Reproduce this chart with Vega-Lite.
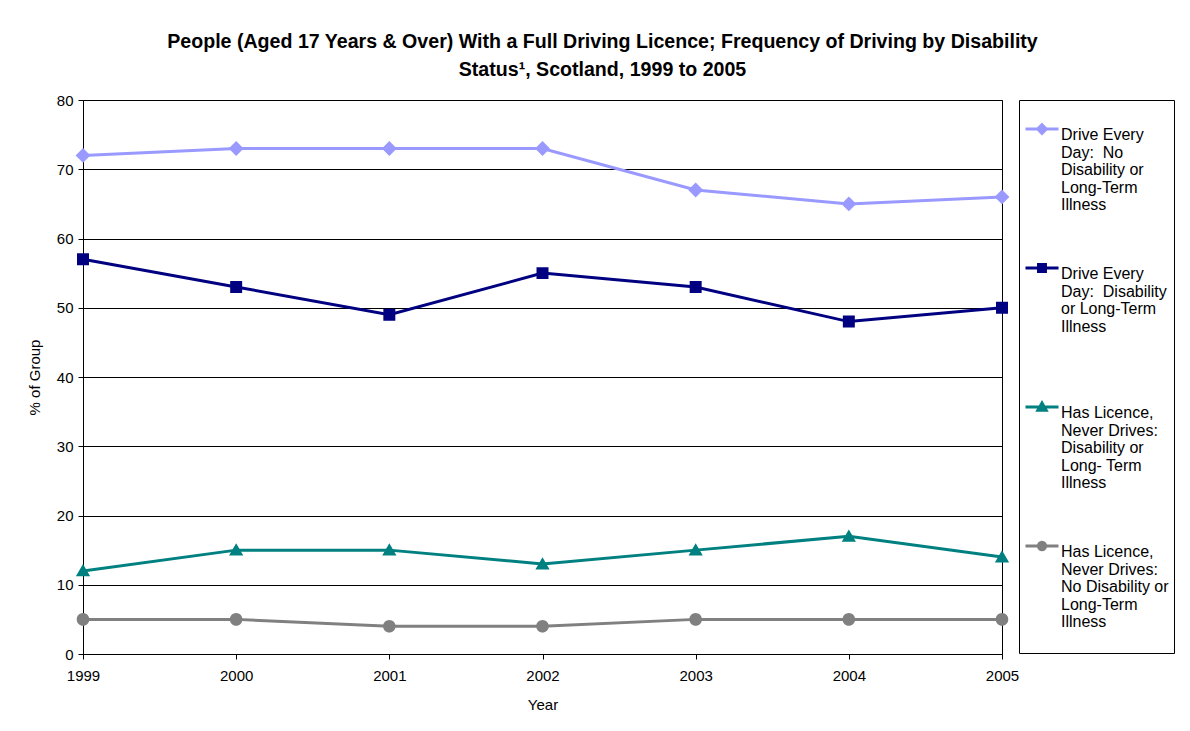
{
  "$schema": "https://vega.github.io/schema/vega-lite/v6.json",
  "width": 919,
  "height": 554,
  "autosize": {"type": "none"},
  "padding": {"left": 83, "top": 100, "right": 188, "bottom": 77},
  "background": "white",
  "title": {
    "text": ["People (Aged 17 Years & Over) With a Full Driving Licence; Frequency of Driving by Disability", "Status¹, Scotland, 1999 to 2005"],
    "font": "Liberation Sans",
    "fontSize": 19.6,
    "fontWeight": "bold",
    "color": "black",
    "lineHeight": 28,
    "anchor": "middle",
    "dx": 60,
    "offset": 12
  },
  "config": {
    "view": {"stroke": "black", "strokeWidth": 1},
    "font": "Liberation Sans",
    "axis": {
      "labelFont": "Liberation Sans",
      "titleFont": "Liberation Sans",
      "labelFontSize": 15,
      "titleFontSize": 15,
      "titleFontWeight": "normal",
      "labelColor": "black",
      "titleColor": "black",
      "domainColor": "black",
      "tickColor": "black",
      "gridColor": "black",
      "gridOpacity": 1,
      "gridWidth": 1,
      "tickSize": 5,
      "domainWidth": 1
    }
  },
  "data": {
    "values": [
      {"year": 1999, "series": "A", "value": 72},
      {"year": 2000, "series": "A", "value": 73},
      {"year": 2001, "series": "A", "value": 73},
      {"year": 2002, "series": "A", "value": 73},
      {"year": 2003, "series": "A", "value": 67},
      {"year": 2004, "series": "A", "value": 65},
      {"year": 2005, "series": "A", "value": 66},
      {"year": 1999, "series": "B", "value": 57},
      {"year": 2000, "series": "B", "value": 53},
      {"year": 2001, "series": "B", "value": 49},
      {"year": 2002, "series": "B", "value": 55},
      {"year": 2003, "series": "B", "value": 53},
      {"year": 2004, "series": "B", "value": 48},
      {"year": 2005, "series": "B", "value": 50},
      {"year": 1999, "series": "C", "value": 12},
      {"year": 2000, "series": "C", "value": 15},
      {"year": 2001, "series": "C", "value": 15},
      {"year": 2002, "series": "C", "value": 13},
      {"year": 2003, "series": "C", "value": 15},
      {"year": 2004, "series": "C", "value": 17},
      {"year": 2005, "series": "C", "value": 14},
      {"year": 1999, "series": "D", "value": 5},
      {"year": 2000, "series": "D", "value": 5},
      {"year": 2001, "series": "D", "value": 4},
      {"year": 2002, "series": "D", "value": 4},
      {"year": 2003, "series": "D", "value": 5},
      {"year": 2004, "series": "D", "value": 5},
      {"year": 2005, "series": "D", "value": 5}
    ]
  },
  "encoding": {
    "x": {
      "field": "year",
      "type": "quantitative",
      "scale": {"domain": [1999, 2005], "nice": false, "zero": false},
      "axis": {"values": [1999, 2000, 2001, 2002, 2003, 2004, 2005], "format": "d", "grid": false, "title": "Year", "labelPadding": 9, "titlePadding": 14, "labelFlush": false}
    },
    "y": {
      "field": "value",
      "type": "quantitative",
      "scale": {"domain": [0, 80], "nice": false},
      "axis": {"values": [0, 10, 20, 30, 40, 50, 60, 70, 80], "grid": true, "title": "% of Group", "labelPadding": 5, "titlePadding": 14}
    },
    "color": {
      "field": "series",
      "type": "nominal",
      "scale": {"domain": ["A", "B", "C", "D"], "range": ["#9999FF", "#000080", "#008080", "#808080"]},
      "legend": {
        "title": " ",
        "titleFontSize": 6,
        "titlePadding": 0,
        "orient": "none",
        "legendX": 936,
        "legendY": 0,
        "padding": 5,
        "strokeColor": "black",
        "fillColor": "white",
        "symbolSize": 1089,
        "symbolStrokeWidth": 3,
        "labelFont": "Liberation Sans",
        "labelFontSize": 16,
        "labelColor": "black",
        "labelLimit": 300,
        "labelOffset": 1,
        "labelBaseline": "top",
        "gridAlign": "all",
        "rowPadding": 19,
        "labelExpr": "datum.label == 'A' ? ['Drive Every', 'Day:\u00a0 No', 'Disability or', 'Long-Term', 'Illness', ''] : datum.label == 'B' ? ['Drive Every', 'Day:\u00a0 Disability', 'or Long-Term', 'Illness', '', ''] : datum.label == 'C' ? ['Has Licence,', 'Never Drives:', 'Disability or', 'Long- Term', 'Illness', ''] : ['Has Licence,', 'Never Drives:', 'No Disability or', 'Long-Term', 'Illness', '']",
        "encode": {
          "symbols": {"update": {"stroke": {"scale": "color", "field": "value"}, "strokeWidth": {"value": 3}}},
          "labels": {"update": {"dy": {"value": -2}, "lineHeight": {"value": 17.5}}}
        }
      }
    }
  },
  "layer": [
    {
      "mark": {"type": "line", "strokeWidth": 3}
    },
    {
      "mark": {"type": "point", "filled": true, "opacity": 1, "size": 3249},
      "encoding": {
        "shape": {
          "field": "series",
          "type": "nominal",
          "scale": {
            "domain": ["A", "B", "C", "D"],
            "range": [
              "M-1,0L1,0M0,-0.26L0.26,0L0,0.26L-0.26,0Z",
              "M-1,0L1,0M-0.21,-0.21L0.21,-0.21L0.21,0.21L-0.21,0.21Z",
              "M-1,0L1,0M0,-0.24L0.25,0.19L-0.25,0.19Z",
              "M-1,0L1,0M-0.22,0A0.22,0.22,0,1,0,0.22,0A0.22,0.22,0,1,0,-0.22,0Z"
            ]
          }
        }
      }
    }
  ]
}
